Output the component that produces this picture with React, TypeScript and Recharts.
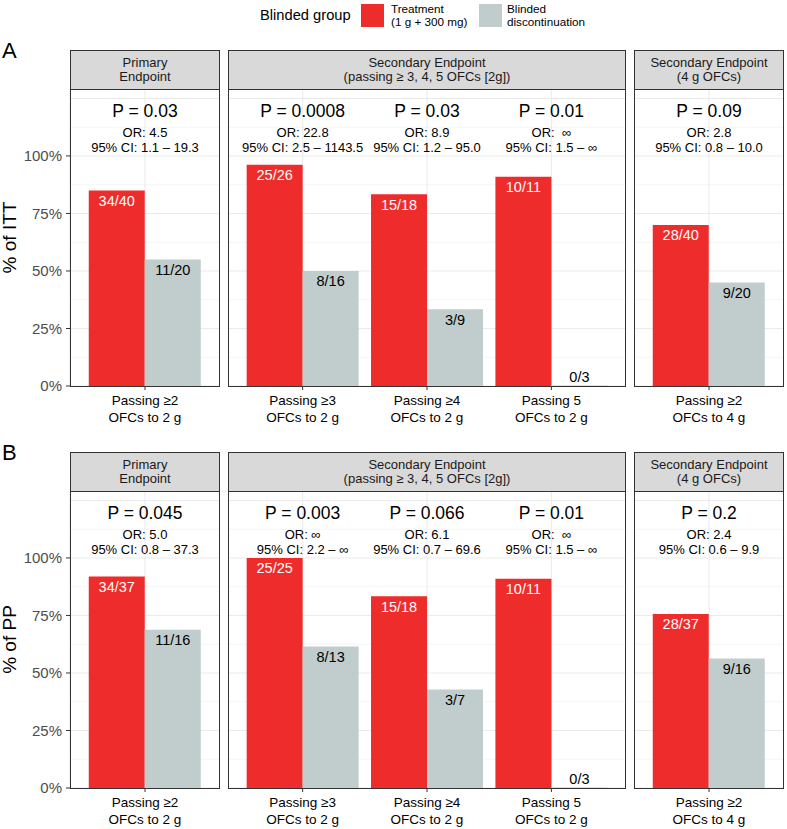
import React from 'react';
import { ComposedChart, Bar, XAxis, YAxis, CartesianGrid, LabelList, ReferenceDot } from 'recharts';

const FONT = '"Liberation Sans", Arial, Helvetica, sans-serif';
const RED = '#EE2C2C';
const GREY = '#C1CDCD';
const INK = '#1a1a1a';

// categories and facet membership
const categories = ['p2_2g', 'p3_2g', 'p4_2g', 'p5_2g', 'p2_4g'];
const tickLine1 = ['Passing \u22652', 'Passing \u22653', 'Passing \u22654', 'Passing 5', 'Passing \u22652'];
const tickLine2 = ['OFCs to 2 g', 'OFCs to 2 g', 'OFCs to 2 g', 'OFCs to 2 g', 'OFCs to 4 g'];
const panelOf = [0, 1, 1, 1, 2];
const stripLabels = [
  ['Primary', 'Endpoint'],
  ['Secondary Endpoint', '(passing \u2265 3, 4, 5 OFCs [2g])'],
  ['Secondary Endpoint', '(4 g OFCs)'],
];

// A: intention to treat
const ittTrtPassed = [34, 25, 15, 10, 28];
const ittTrtTotal = [40, 26, 18, 11, 40];
const ittCtlPassed = [11, 8, 3, 0, 9];
const ittCtlTotal = [20, 16, 9, 3, 20];
const ittP = ['P = 0.03', 'P = 0.0008', 'P = 0.03', 'P = 0.01', 'P = 0.09'];
const ittOR = ['OR: 4.5', 'OR: 22.8', 'OR: 8.9', 'OR:  \u221e', 'OR: 2.8'];
const ittCI = ['95% CI: 1.1 \u2013 19.3', '95% CI: 2.5 \u2013 1143.5', '95% CI: 1.2 \u2013 95.0', '95% CI: 1.5 \u2013 \u221e', '95% CI: 0.8 \u2013 10.0'];

// B: per protocol
const ppTrtPassed = [34, 25, 15, 10, 28];
const ppTrtTotal = [37, 25, 18, 11, 37];
const ppCtlPassed = [11, 8, 3, 0, 9];
const ppCtlTotal = [16, 13, 7, 3, 16];
const ppP = ['P = 0.045', 'P = 0.003', 'P = 0.066', 'P = 0.01', 'P = 0.2'];
const ppOR = ['OR: 5.0', 'OR: \u221e', 'OR: 6.1', 'OR:  \u221e', 'OR: 2.4'];
const ppCI = ['95% CI: 0.8 \u2013 37.3', '95% CI: 2.2 \u2013 \u221e', '95% CI: 0.7 \u2013 69.6', '95% CI: 1.5 \u2013 \u221e', '95% CI: 0.6 \u2013 9.9'];

const yTicks = [0, 25, 50, 75, 100];
const majorGrid = [0, 25, 50, 75, 100, 125];
const minorGrid = [12.5, 37.5, 62.5, 87.5, 112.5];
const Y_MAX = 129.1;

// annotation heights (in % units)
const P_Y = 119.6;
const OR_Y = 110.4;
const CI_Y = 103.5;

// layout
const PANELS = [
  { left: 70, width: 150 },
  { left: 228, width: 398 },
  { left: 634, width: 150 },
];
const PLOT_H = 297;
const AXIS_H = 45;

type Row = {
  cat: string;
  trt: number;
  ctl: number;
  trtLab: string;
  ctlLab: string;
  p: string;
  or: string;
  ci: string;
};

function buildRows(tn: number[], td: number[], cn: number[], cd: number[], p: string[], or: string[], ci: string[]): Row[] {
  return categories.map((c, i) => ({
    cat: c,
    trt: (tn[i] / td[i]) * 100,
    ctl: (cn[i] / cd[i]) * 100,
    trtLab: `${tn[i]}/${td[i]}`,
    ctlLab: `${cn[i]}/${cd[i]}`,
    p: p[i],
    or: or[i],
    ci: ci[i],
  }));
}

const FIGURE_ROWS = [
  {
    tag: 'A',
    yTitle: '% of ITT',
    stripTop: 50,
    plotTop: 89,
    data: buildRows(ittTrtPassed, ittTrtTotal, ittCtlPassed, ittCtlTotal, ittP, ittOR, ittCI),
  },
  {
    tag: 'B',
    yTitle: '% of PP',
    stripTop: 452,
    plotTop: 491,
    data: buildRows(ppTrtPassed, ppTrtTotal, ppCtlPassed, ppCtlTotal, ppP, ppOR, ppCI),
  },
];

const XTick = (props: any) => {
  const { x, y, payload } = props;
  const i = categories.indexOf(payload.value);
  return (
    <g>
      <text x={x} y={y + 8} textAnchor="middle" dominantBaseline="central" fontSize={13.5} fill="#000" fontFamily={FONT}>
        {tickLine1[i]}
      </text>
      <text x={x} y={y + 25} textAnchor="middle" dominantBaseline="central" fontSize={13.5} fill="#000" fontFamily={FONT}>
        {tickLine2[i]}
      </text>
    </g>
  );
};

const barLabel = (color: string) => (props: any) => {
  const x = Number(props.x ?? props.viewBox?.x ?? 0);
  const y = Number(props.y ?? props.viewBox?.y ?? 0);
  const w = Number(props.width ?? props.viewBox?.width ?? 0);
  const h = Number(props.height ?? props.viewBox?.height ?? 0);
  const cy = h > 18 ? y + 10.5 : y + h - 9;
  return (
    <text x={x + w / 2} y={cy} textAnchor="middle" dominantBaseline="central" fontSize={14.5} fill={h > 18 ? color : '#000'} fontFamily={FONT}>
      {props.value}
    </text>
  );
};

const annot = (text: string, size: number) => (props: any) => (
  <text x={props.cx} y={props.cy} textAnchor="middle" dominantBaseline="central" fontSize={size} fill="#000" fontFamily={FONT} style={{ whiteSpace: 'pre' }}>
    {text}
  </text>
);

function Panel({ data, panelIndex, plotTop }: { data: Row[]; panelIndex: number; plotTop: number }) {
  const panel = PANELS[panelIndex];
  const rows = data.filter((_, i) => panelOf[i] === panelIndex);
  const first = panelIndex === 0;
  const L = first ? 70 : 0;
  const pad = (panel.width / (rows.length + 0.2)) * 0.1;
  return (
    <div style={{ position: 'absolute', left: panel.left - L, top: plotTop }}>
      <ComposedChart
        width={L + panel.width}
        height={PLOT_H + AXIS_H}
        data={rows}
        margin={{ top: 0, right: 0, bottom: 0, left: 0 }}
        barCategoryGap="5%"
        barGap={0}
      >
        <CartesianGrid horizontalValues={minorGrid} vertical={false} stroke="#ebebeb" strokeWidth={0.55} />
        <CartesianGrid horizontalValues={majorGrid} stroke="#ebebeb" strokeWidth={1.1} />
        <XAxis
          dataKey="cat"
          height={AXIS_H}
          padding={{ left: pad, right: pad }}
          interval={0}
          tickSize={4}
          tickMargin={2}
          axisLine={false}
          tickLine={{ stroke: '#333333' }}
          tick={<XTick />}
        />
        <YAxis
          domain={[0, Y_MAX]}
          ticks={yTicks}
          hide={!first}
          width={70}
          tickSize={4}
          tickMargin={4}
          axisLine={false}
          tickLine={{ stroke: '#333333' }}
          tick={{ fill: '#4d4d4d', fontSize: 15, fontFamily: FONT }}
          tickFormatter={(v: number) => `${v}%`}
        />
        <Bar dataKey="trt" fill={RED} isAnimationActive={false}>
          <LabelList dataKey="trtLab" content={barLabel('#ffffff')} />
        </Bar>
        <Bar
          dataKey="ctl"
          fill={GREY}
          isAnimationActive={false}
          minPointSize={(v: number) => (v === 0 ? 0.4 : 0)}
        >
          <LabelList dataKey="ctlLab" content={barLabel('#000000')} />
        </Bar>
        {rows.map((d) => (
          <ReferenceDot key={'p' + d.cat} x={d.cat} y={P_Y} r={0} shape={annot(d.p, 17.5)} />
        ))}
        {rows.map((d) => (
          <ReferenceDot key={'o' + d.cat} x={d.cat} y={OR_Y} r={0} shape={annot(d.or, 13)} />
        ))}
        {rows.map((d) => (
          <ReferenceDot key={'c' + d.cat} x={d.cat} y={CI_Y} r={0} shape={annot(d.ci, 13)} />
        ))}
      </ComposedChart>
    </div>
  );
}

export default function App() {
  return (
    <div style={{ position: 'relative', width: 787, height: 829, fontFamily: FONT, background: '#fff', overflow: 'hidden' }}>
      <style>{'body{margin:0}'}</style>

      {/* legend */}
      <div style={{ position: 'absolute', left: 260, top: 6, fontSize: 14.7, color: '#000', lineHeight: '19px' }}>Blinded group</div>
      <div style={{ position: 'absolute', left: 361, top: 4, width: 23, height: 23, background: RED }} />
      <div style={{ position: 'absolute', left: 391, top: 2, fontSize: 11.7, lineHeight: '13px', color: '#000' }}>
        Treatment
        <br />
        (1 g + 300 mg)
      </div>
      <div style={{ position: 'absolute', left: 479, top: 4, width: 23, height: 23, background: GREY }} />
      <div style={{ position: 'absolute', left: 507, top: 2, fontSize: 11.7, lineHeight: '13px', color: '#000' }}>
        Blinded
        <br />
        discontinuation
      </div>

      {FIGURE_ROWS.map((row) => (
        <React.Fragment key={row.tag}>
          {PANELS.map((p, pi) => (
            <div
              key={'s' + pi}
              style={{
                position: 'absolute',
                left: p.left,
                top: row.stripTop,
                width: p.width,
                height: row.plotTop - row.stripTop + 1,
                boxSizing: 'border-box',
                border: '1px solid #333333',
                background: '#d9d9d9',
                color: INK,
                fontSize: 13,
                lineHeight: '14px',
                display: 'flex',
                flexDirection: 'column',
                justifyContent: 'center',
                alignItems: 'center',
                textAlign: 'center',
              }}
            >
              <div>{stripLabels[pi][0]}</div>
              <div>{stripLabels[pi][1]}</div>
            </div>
          ))}
          {PANELS.map((p, pi) => (
            <Panel key={'p' + pi} data={row.data} panelIndex={pi} plotTop={row.plotTop} />
          ))}
          {PANELS.map((p, pi) => (
            <div
              key={'b' + pi}
              style={{
                position: 'absolute',
                left: p.left,
                top: row.plotTop,
                width: p.width,
                height: PLOT_H + 1,
                boxSizing: 'border-box',
                border: '1px solid #333333',
                pointerEvents: 'none',
              }}
            />
          ))}
        </React.Fragment>
      ))}

      <svg width={787} height={829} style={{ position: 'absolute', left: 0, top: 0, pointerEvents: 'none' }}>
        {FIGURE_ROWS.map((row) => (
          <React.Fragment key={'t' + row.tag}>
            <text x={2} y={row.stripTop + 8} fontSize={22} fill="#000" fontFamily={FONT}>
              {row.tag}
            </text>
            <text
              x={16}
              y={row.plotTop + PLOT_H / 2}
              transform={`rotate(-90 16 ${row.plotTop + PLOT_H / 2})`}
              textAnchor="middle"
              fontSize={19}
              fill="#000"
              fontFamily={FONT}
            >
              {row.yTitle}
            </text>
          </React.Fragment>
        ))}
      </svg>
    </div>
  );
}
